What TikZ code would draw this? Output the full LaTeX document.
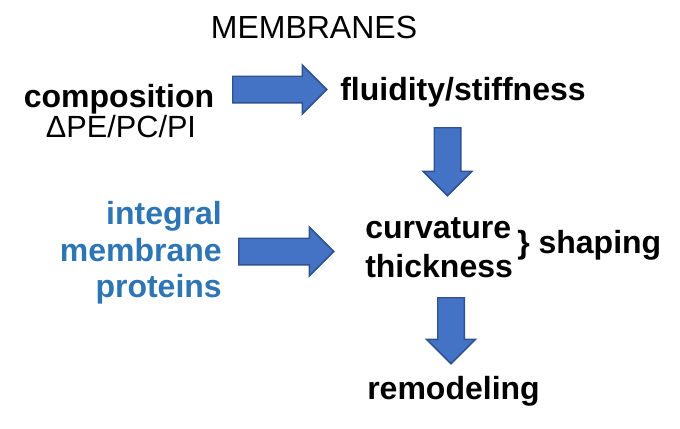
\documentclass[tikz,border=0pt]{standalone}
\usepackage{fontspec}
\setmainfont{Liberation Sans}
\usepackage{tikz}
\usetikzlibrary{shapes.arrows}
\definecolor{arrowfill}{HTML}{4472C4}
\definecolor{arrowline}{HTML}{2F528F}
\definecolor{protblue}{HTML}{2E75B6}

\begin{document}
\begin{tikzpicture}[x=0.75pt, y=-0.75pt,
    bigtext/.style={inner sep=0pt, font=\fontsize{24}{28}\selectfont\bfseries},
    blockarrow/.style={single arrow, fill=arrowfill, draw=arrowline, line width=1.1pt,
        inner xsep=0pt, inner ysep=9.4pt, single arrow head extend=8.3pt,
        single arrow tip angle=90, anchor=tail}]
        \useasboundingbox (0, 0) rectangle (680, 428);
        \node [inner sep=0pt, anchor=base, font=\fontsize{24}{28}\selectfont] (title) at (314, 39) {MEMBRANES};
        \node [bigtext, anchor=base] (comp) at (119, 107) {composition};
        \node [inner sep=0pt, anchor=base, font=\fontsize{23}{26}\selectfont] (lipids) at (121, 137) {ΔPE/PC/PI};
        \node [bigtext, anchor=base west] (fluid) at (340, 100) {fluidity/stiffness};
        \node [bigtext, anchor=base east, text=protblue] (prot1) at (222, 224) {integral};
        \node [bigtext, anchor=base east, text=protblue] (prot2) at (222, 261) {membrane};
        \node [bigtext, anchor=base east, text=protblue] (prot3) at (222, 297) {proteins};
        \node [bigtext, anchor=base west] (curv) at (365, 238) {curvature};
        \node [bigtext, anchor=base west] (thick) at (365, 277) {thickness};
        \node [bigtext, anchor=base west] (shape) at (517, 253) {\} shaping};
        \node [bigtext, anchor=base west] (remod) at (367, 399) {remodeling};
        % block arrows
        \node [blockarrow, minimum height=70.5pt] (a1) at (232, 89.5) {};
        \node [blockarrow, minimum height=51pt, rotate=-90] (a2) at (447.5, 127) {};
        \node [blockarrow, minimum height=71.25pt] (a3) at (238, 251.5) {};
        \node [blockarrow, minimum height=49.5pt, rotate=-90] (a4) at (451, 297) {};
      \end{tikzpicture}
\end{document}
